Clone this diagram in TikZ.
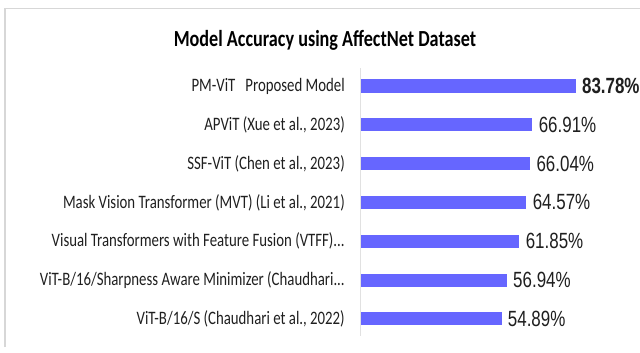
\documentclass[tikz,border=0pt]{standalone}
\usepackage{fontspec}
\newfontfamily\labfont[FakeStretch=0.78]{Carlito}
\newfontfamily\titfont[FakeStretch=0.79]{Carlito}
\newfontfamily\valfont[FakeStretch=0.77]{Liberation Sans}
\definecolor{barblue}{RGB}{102,102,255}
\definecolor{framegray}{RGB}{215,215,215}
\definecolor{axisgray}{RGB}{225,225,225}
\tikzset{
  lab/.style={anchor=east, inner sep=0pt, font=\labfont\fontsize{19}{22}\selectfont, text=black!88},
  val/.style={anchor=west, inner sep=0pt, font=\valfont\fontsize{22}{25}\selectfont, text=black!88},
  bar/.style={anchor=west, fill=barblue, draw=none, inner sep=0pt, minimum height=13pt},
}
\begin{document}
\begin{tikzpicture}[x=1pt,y=-1pt]
\useasboundingbox (0,0) rectangle (640,353);
\draw[framegray, line width=1.2pt] (5,347) -- (5,8.5) -- (641,8.5);
\node[inner sep=0pt, font=\titfont\bfseries\fontsize{23}{26}\selectfont] (title) at (325,40) {Model Accuracy using AffectNet Dataset};
\draw[axisgray, line width=0.8pt] (360,68) -- (360,336);
\foreach \i/\v/\t/\vt in {
  1/83.78/{PM-ViT \ \ Proposed Model}/{\textbf{83.78\%}},
  2/66.91/{APViT (Xue et al., 2023)}/{66.91\%},
  3/66.04/{SSF-ViT (Chen et al., 2023)}/{66.04\%},
  4/64.57/{Mask Vision Transformer (MVT) (Li et al., 2021)}/{64.57\%},
  5/61.85/{Visual Transformers with Feature Fusion (VTFF)...}/{61.85\%},
  6/56.94/{ViT-B/16/Sharpness Aware Minimizer (Chaudhari...}/{56.94\%},
  7/54.89/{ViT-B/16/S (Chaudhari et al., 2022)}/{54.89\%}}{
  \pgfmathsetmacro{\yy}{86+(\i-1)*38.8}
  \pgfmathsetmacro{\ww}{\v*2.566}
  \node[bar, minimum width=\ww pt] (b\i) at (360.5,\yy) {};
  \node[lab] (l\i) at (345,\yy) {\t};
  \node[val] (v\i) at ([xshift=6pt]b\i.east) {\vt};
}
\end{tikzpicture}
\end{document}
